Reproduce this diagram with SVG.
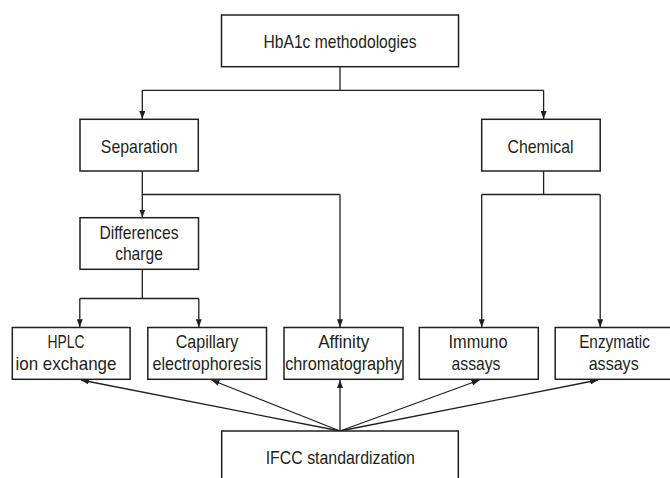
<svg xmlns="http://www.w3.org/2000/svg" width="670" height="478" viewBox="0 0 670 478">
<style>
.box{fill:#fff;stroke:#231f20;stroke-width:1.5}
.t{font-family:"Liberation Sans Narrow","Liberation Sans",Arial,sans-serif;font-size:19px;fill:#231f20;text-anchor:middle}
.c{fill:none;stroke:#231f20;stroke-width:1.3}
</style>
<defs>
<marker id="ah" markerUnits="userSpaceOnUse" markerWidth="8" markerHeight="6" refX="8" refY="3" orient="auto">
<path d="M0,0 L8,3 L0,6 z" fill="#231f20"/>
</marker>
</defs>
<rect width="670" height="478" fill="#fff"/>
<g id="connectors">
<path class="c" d="M340,66.7 V90.3 M142.3,90.3 H543.6"/>
<path class="c" d="M142.3,90.3 V119" marker-end="url(#ah)"/>
<path class="c" d="M543.6,90.3 V119" marker-end="url(#ah)"/>
<path class="c" d="M142.3,171 V194.5 H340"/>
<path class="c" d="M142.3,194.5 V217.5" marker-end="url(#ah)"/>
<path class="c" d="M340,194.5 V327.3" marker-end="url(#ah)"/>
<path class="c" d="M543.6,171 V194.5 M481.7,194.5 H600.2"/>
<path class="c" d="M481.7,194.5 V327.3" marker-end="url(#ah)"/>
<path class="c" d="M600.2,194.5 V327.3" marker-end="url(#ah)"/>
<path class="c" d="M142.3,269.3 V298.5 M79.8,298.5 H198.8"/>
<path class="c" d="M79.8,298.5 V327.3" marker-end="url(#ah)"/>
<path class="c" d="M198.8,298.5 V327.3" marker-end="url(#ah)"/>
<path class="c" d="M340,431 L81,380" marker-end="url(#ah)"/>
<path class="c" d="M340,431 L211.5,380" marker-end="url(#ah)"/>
<path class="c" d="M340,431 L340,380" marker-end="url(#ah)"/>
<path class="c" d="M340,431 L479.5,380" marker-end="url(#ah)"/>
<path class="c" d="M340,431 L598,380" marker-end="url(#ah)"/>
</g>
<g id="hba1c"><rect class="box" x="221.5" y="15" width="237" height="51.7"/><text class="t" x="340" y="48.3" textLength="153" lengthAdjust="spacingAndGlyphs">HbA1c methodologies</text></g>
<g id="separation"><rect class="box" x="80" y="119.3" width="118.3" height="51.7"/><text class="t" x="139.2" y="152.6" textLength="76.7" lengthAdjust="spacingAndGlyphs">Separation</text></g>
<g id="chemical"><rect class="box" x="481.7" y="119.3" width="118.5" height="51.7"/><text class="t" x="540.5" y="152.6" textLength="66" lengthAdjust="spacingAndGlyphs">Chemical</text></g>
<g id="differences"><rect class="box" x="80" y="217.7" width="118.5" height="51.6"/><text class="t" x="139" y="238.6" textLength="79" lengthAdjust="spacingAndGlyphs">Differences</text><text class="t" x="139" y="259.8" textLength="47.7" lengthAdjust="spacingAndGlyphs">charge</text></g>
<g id="hplc"><rect class="box" x="12.3" y="327.5" width="117.8" height="51.8"/><text class="t" x="66" y="348.3" textLength="37" lengthAdjust="spacingAndGlyphs">HPLC</text><text class="t" x="66" y="369.5" textLength="101" lengthAdjust="spacingAndGlyphs">ion exchange</text></g>
<g id="capillary"><rect class="box" x="147.8" y="327.5" width="118.7" height="51.8"/><text class="t" x="207" y="348.3" textLength="62.6" lengthAdjust="spacingAndGlyphs">Capillary</text><text class="t" x="207" y="369.5" textLength="109" lengthAdjust="spacingAndGlyphs">electrophoresis</text></g>
<g id="affinity"><rect class="box" x="284" y="327.5" width="119" height="51.8"/><text class="t" x="343.7" y="348.3" textLength="51" lengthAdjust="spacingAndGlyphs">Affinity</text><text class="t" x="343.7" y="369.5" textLength="117" lengthAdjust="spacingAndGlyphs">chromatography</text></g>
<g id="immuno"><rect class="box" x="419.3" y="327.5" width="119" height="51.8"/><text class="t" x="478" y="348.3" textLength="59" lengthAdjust="spacingAndGlyphs">Immuno</text><text class="t" x="476" y="369.5" textLength="49" lengthAdjust="spacingAndGlyphs">assays</text></g>
<g id="enzymatic"><rect class="box" x="555.2" y="327.5" width="118.5" height="51.8"/><text class="t" x="614.5" y="348.3" textLength="70.7" lengthAdjust="spacingAndGlyphs">Enzymatic</text><text class="t" x="613.7" y="369.5" textLength="50" lengthAdjust="spacingAndGlyphs">assays</text></g>
<g id="ifcc"><rect class="box" x="221.7" y="431" width="236.6" height="60"/><text class="t" x="340.3" y="464.3" textLength="149.3" lengthAdjust="spacingAndGlyphs">IFCC standardization</text></g>
</svg>
